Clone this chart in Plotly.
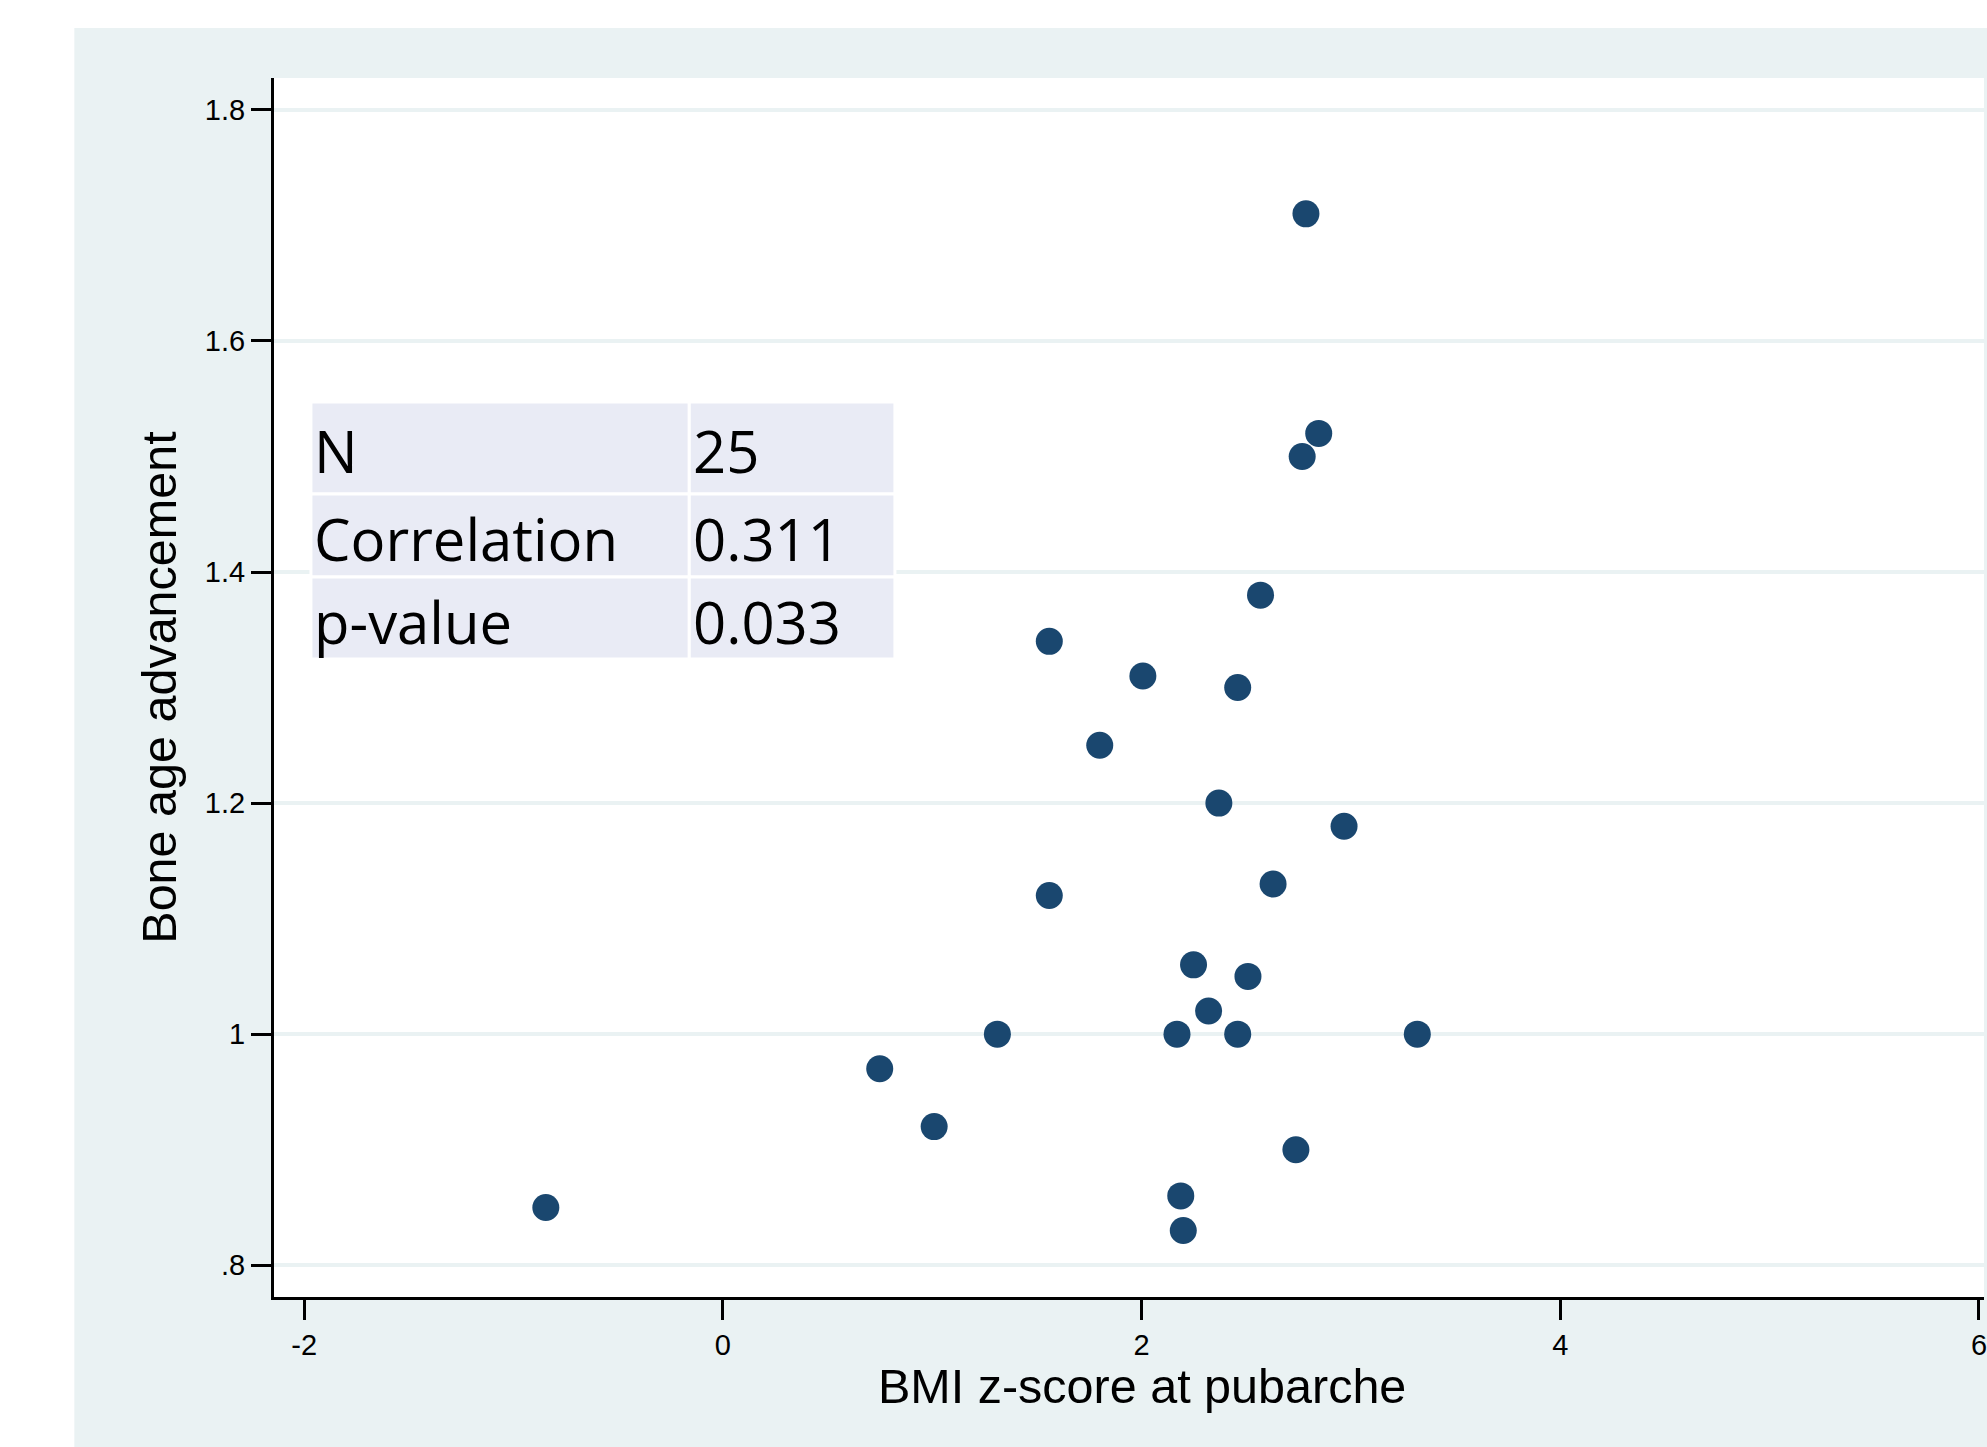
import plotly.graph_objects as go

# ---- data ----
bmi_z = [2.785, 2.846, 2.767, 2.568, 1.559, 2.006, 2.459, 1.800, 2.369, 2.967,
         2.628, 1.559, 2.248, 2.508, 2.320, 2.169, 2.459, 1.311, 3.317, 0.749,
         1.009, 2.737, 2.187, 2.199, -0.846]
bone_age = [1.71, 1.52, 1.50, 1.38, 1.34, 1.31, 1.30, 1.25, 1.20, 1.18,
            1.13, 1.12, 1.06, 1.05, 1.02, 1.00, 1.00, 1.00, 1.00, 0.97,
            0.92, 0.90, 0.86, 0.83, 0.85]

x_ticks = [-2, 0, 2, 4, 6]
x_tick_labels = ["-2", "0", "2", "4", "6"]
y_ticks = [0.8, 1.0, 1.2, 1.4, 1.6, 1.8]
y_tick_labels = [".8", "1", "1.2", "1.4", "1.6", "1.8"]

table_labels = ["N", "Correlation", "p-value"]
table_values = ["25", "0.311", "0.033"]

x_title = "BMI z-score at pubarche"
y_title = "Bone age advancement"

# ---- layout constants (pixels) ----
W, H = 1987, 1447
L, R, T, B = 274, 0, 78, 150
PW, PH = W - L - R, H - T - B

def px(xp):
    return (xp - L) / PW

def py(yp):
    return (H - B - yp) / PH

BG = "#EAF2F3"
GRID = "#EAF2F3"
NAVY = "#1A476F"
CELL = "#E9EBF5"

fig = go.Figure()
fig.add_trace(go.Scatter(
    x=bmi_z, y=bone_age, mode="markers",
    marker=dict(color=NAVY, size=27, line=dict(width=0)),
    showlegend=False, hoverinfo="x+y",
))

shapes = [
    # white strips outside the graph region
    dict(type="rect", xref="paper", yref="paper", x0=-0.5, x1=1.5,
         y0=py(28), y1=1.5, fillcolor="white", line=dict(width=0), layer="below"),
    dict(type="rect", xref="paper", yref="paper", x0=-0.5, x1=px(74),
         y0=-0.5, y1=1.5, fillcolor="white", line=dict(width=0), layer="below"),
]

col_edges = [311, 690, 896]
row_edges = [402, 494, 577, 659]
for r in range(3):
    for c in range(2):
        shapes.append(dict(
            type="rect", xref="paper", yref="paper",
            x0=px(col_edges[c]), x1=px(col_edges[c + 1]),
            y0=py(row_edges[r + 1]), y1=py(row_edges[r]),
            fillcolor=CELL, line=dict(color="white", width=3), layer="above"))

annotations = []
tfont = dict(family="Open Sans", size=58, color="black")
for r in range(3):
    yc = py((row_edges[r] + row_edges[r + 1]) / 2 + 3)
    annotations.append(dict(text=table_labels[r], xref="paper", yref="paper",
                            x=px(312), y=yc, xanchor="left", yanchor="middle",
                            showarrow=False, font=tfont))
    annotations.append(dict(text=table_values[r], xref="paper", yref="paper",
                            x=px(692), y=yc, xanchor="left", yanchor="middle",
                            showarrow=False, font=tfont))

afont = dict(family="Liberation Sans, Arial, sans-serif", size=48.5, color="black")
annotations.append(dict(text=x_title, xref="x", yref="paper", x=2, y=py(1386),
                        xanchor="center", yanchor="middle", showarrow=False, font=afont))
annotations.append(dict(text=y_title, xref="paper", yref="paper", x=px(158), y=0.5,
                        xanchor="center", yanchor="middle", textangle=-90,
                        showarrow=False, font=afont))

tickfont = dict(family="Liberation Sans, Arial, sans-serif", size=29, color="black")

fig.update_layout(
    width=W, height=H,
    margin=dict(l=L, r=R, t=T, b=B, pad=0),
    paper_bgcolor=BG, plot_bgcolor="white",
    shapes=shapes, annotations=annotations,
    xaxis=dict(range=[-2.1445, 6.024], tickvals=x_ticks, ticktext=x_tick_labels,
               showgrid=False, zeroline=False, showline=True, linecolor="black",
               linewidth=3, ticks="outside", ticklen=20, tickwidth=2.5,
               tickcolor="black", tickfont=tickfont, ticklabelstandoff=0,
               ticklabeloverflow="allow"),
    yaxis=dict(range=[0.7725, 1.8276], tickvals=y_ticks, ticktext=y_tick_labels,
               showgrid=True, gridcolor=GRID, gridwidth=4, zeroline=False,
               showline=True, linecolor="black", linewidth=3, ticks="outside",
               ticklen=20, tickwidth=2.5, tickcolor="black", tickfont=tickfont,
               ticklabelstandoff=0),
)

fig.write_html(
    "out.html",
    config={"displayModeBar": False},
    post_script=(
        "document.documentElement.style.overflow='hidden';"
        "document.body.style.margin='0';document.body.style.overflow='hidden';"
        "var d=document.getElementById('{plot_id}');"
        "d.style.overflow='hidden';d.style.width='1987px';d.style.height='1447px';"
        "d.querySelectorAll('svg.main-svg').forEach(function(s){s.style.overflow='hidden';});"
    ),
)
